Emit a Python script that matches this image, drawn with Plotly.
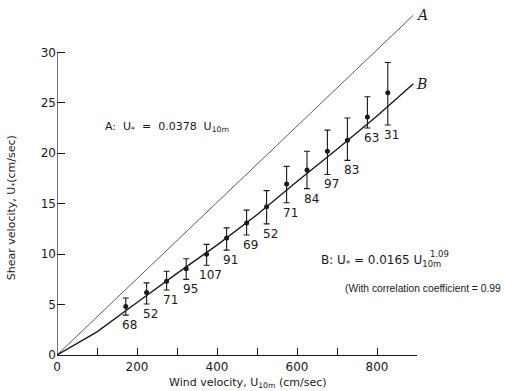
import plotly.graph_objects as go

# Data
wind = [172, 224, 274, 323, 374, 424, 474, 524, 574, 625, 676, 726, 776, 827]
shear = [4.8, 6.2, 7.3, 8.55, 10.0, 11.6, 13.1, 14.7, 16.95, 18.35, 20.2, 21.3, 23.6, 26.0]
shear_hi = [5.65, 7.15, 8.3, 9.55, 10.97, 12.6, 14.36, 16.3, 18.7, 20.2, 22.3, 23.5, 25.6, 29.0]
shear_lo = [3.95, 5.05, 6.45, 7.5, 8.9, 10.4, 11.9, 13.0, 15.1, 16.5, 17.9, 19.3, 22.5, 22.8]
counts = ["68", "52", "71", "95", "107", "91", "69", "52", "71", "84", "97", "83", "63", "31"]

lineA_x = [0, 891]
lineA_y = [0, 33.7]
lineB_x = [0, 100, 200, 300, 400, 500, 600, 700, 800, 891]
lineB_y = [0, 2.3, 5.2, 8.1, 10.9, 13.9, 17.2, 20.4, 23.7, 26.9]

x_ticks = [0, 200, 400, 600, 800]
y_ticks = [0, 5, 10, 15, 20, 25, 30]

FONT = "DejaVu Sans"
INK = "#1a1a1a"

fig = go.Figure()
fig.add_trace(go.Scatter(x=lineA_x, y=lineA_y, mode="lines",
                         line=dict(color="#333", width=0.8), hoverinfo="skip"))
fig.add_trace(go.Scatter(x=lineB_x, y=lineB_y, mode="lines",
                         line=dict(color=INK, width=1.4), hoverinfo="skip"))
fig.add_trace(go.Scatter(
    x=wind, y=shear, mode="markers",
    marker=dict(color=INK, size=5),
    error_y=dict(type="data", symmetric=False,
                 array=[h - s for h, s in zip(shear_hi, shear)],
                 arrayminus=[s - l for s, l in zip(shear, shear_lo)],
                 color=INK, thickness=1.1, width=3),
))

for xv, lo, c in zip(wind, shear_lo, counts):
    fig.add_annotation(x=xv, y=lo, text=c, showarrow=False, xanchor="center",
                       yanchor="top", xshift=4, yshift=-1,
                       font=dict(family=FONT, size=12, color=INK))

# Y axis line only up to 30
fig.add_shape(type="line", x0=0, x1=0, y0=0, y1=30, xref="x", yref="y",
              line=dict(color=INK, width=1.2))

fig.add_annotation(x=893, y=33.7, text="<i>A</i>", showarrow=False, xanchor="left",
                   font=dict(family="DejaVu Serif", size=14, color=INK))
fig.add_annotation(x=893, y=26.9, text="<i>B</i>", showarrow=False, xanchor="left",
                   font=dict(family="DejaVu Serif", size=14, color=INK))
fig.add_annotation(x=114, y=22.6, text="A:  U<sub>*</sub>  =  0.0378  U<sub>10m</sub>",
                   showarrow=False, xanchor="left",
                   font=dict(family=FONT, size=11, color=INK))
fig.add_annotation(x=656, y=9.3, text="B: U<sub>*</sub> = 0.0165 U<sub>10m</sub>",
                   showarrow=False, xanchor="left",
                   font=dict(family=FONT, size=12, color=INK))
fig.add_annotation(xref="paper", yref="paper", x=1.062, y=0.286, text="1.09",
                   showarrow=False, xanchor="center", yanchor="middle",
                   font=dict(family=FONT, size=8.5, color=INK))
fig.add_annotation(x=715, y=6.6, text="(With correlation coefficient = 0.99",
                   showarrow=False, xanchor="left",
                   font=dict(family="Liberation Sans", size=10.3, color=INK))

# Axis titles
fig.add_annotation(xref="paper", yref="paper", x=0.531, y=-0.079,
                   text="Wind velocity, U<sub>10m</sub> (cm/sec)", showarrow=False,
                   xanchor="center", yanchor="middle",
                   font=dict(family=FONT, size=11, color=INK))
fig.add_annotation(xref="paper", yref="paper", x=-0.125, y=0.416, textangle=-90,
                   text="Shear velocity, U<sub>*</sub>(cm/sec)", showarrow=False,
                   xanchor="center", yanchor="middle",
                   font=dict(family=FONT, size=11, color=INK))

fig.update_layout(
    width=505, height=391,
    margin=dict(l=57, r=88, t=2, b=36),
    paper_bgcolor="white", plot_bgcolor="white",
    showlegend=False,
    font=dict(family=FONT, size=12, color=INK),
    xaxis=dict(range=[0, 900], tickvals=x_ticks, ticks="inside", ticklen=7,
               tickcolor=INK, showline=True, linecolor=INK, linewidth=1.2,
               showgrid=False, zeroline=False, automargin=False,
               minor=dict(dtick=100, tick0=0, ticks="inside", ticklen=7, tickcolor=INK, showgrid=False),
               tickfont=dict(family=FONT, size=12, color=INK)),
    yaxis=dict(range=[0, 35], tickvals=y_ticks, ticks="inside", ticklen=8,
               tickcolor=INK, showline=False, showgrid=False, zeroline=False,
               automargin=False,
               tickfont=dict(family=FONT, size=12, color=INK)),
)

fig.write_html("out.html", config={"displayModeBar": False},
               post_script="document.body.style.margin='0';")
